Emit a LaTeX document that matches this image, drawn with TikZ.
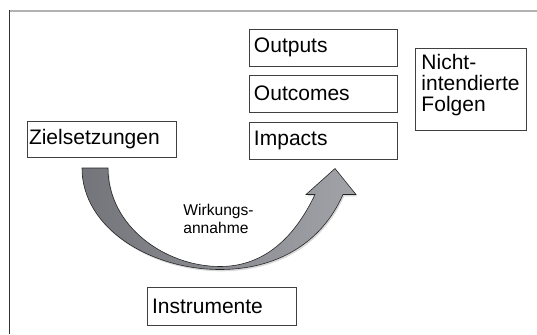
\documentclass[tikz,border=0pt]{standalone}
\usepackage{fontspec}
\setmainfont{Liberation Sans}
\usetikzlibrary{calc, shadows}
\usepackage{xcolor}
\definecolor{arrowdark}{RGB}{116,117,122}
\definecolor{arrowlight}{RGB}{162,163,168}

\begin{document}
\begin{tikzpicture}[x=0.5pt, y=-0.5pt]
    \tikzstyle{box}=[draw=black!75, line width=0.5pt, anchor=north west, align=left,
        inner ysep=0pt, font=\fontsize{10.5}{10.5}\selectfont]
    \tikzstyle{result box}=[box, inner xsep=2.25pt, text width=69.5pt, minimum height=18.25pt]
    \tikzstyle{wirk arrow}=[draw=black!85, line width=0.3pt, left color=arrowdark, right color=arrowlight,
        drop shadow={shadow xshift=0.6pt, shadow yshift=-0.9pt, opacity=0.3}]
    \tikzstyle{annot}=[inner sep=0pt, anchor=north west, align=left, font=\fontsize{7.8}{9}\selectfont]

    \useasboundingbox (0,0) rectangle (537,334);

    % Draw the frame (only top and left side)
    \draw[gray!60, line width=1pt] (9,10.5) -- (537,10.5);
    \draw[black!80, line width=0.75pt] (9.5,10) -- (9.5,334);

    % Draw the goal and the instruments
    \node[box, inner xsep=0.75pt, text width=73pt, minimum height=18pt] (Z) at (27,121) {Zielsetzungen};
    \node[box, inner xsep=2.25pt, text width=70pt, minimum height=19pt] (I) at (147,287) {Instrumente};

    % Draw the result boxes
    \foreach \i / \name / \y in {1/Outputs/29, 2/Outcomes/75, 3/Impacts/122}
        \node[result box] (R-\i) at (249,\y) {\name};

    % Side effects
    \node[box, inner xsep=3pt, inner ysep=3pt, text width=49.5pt, text depth=27.3pt] (N) at (415,48)
        {Nicht-\\intendierte\\Folgen};

    % The bent arrow from the goal to the impacts
    \coordinate (tail) at ($(Z.south west)+(55,10)$);
    \coordinate (tip) at ($(R-3.south west)+(86,9)$);
    \coordinate (low) at ($(I.north)+(-2,-19)$);
    \path[wirk arrow] (tail) -- ++(26,0)
        .. controls +(0,58) and +(-55,0) .. ($(low)+(0,-1.5)$)
        .. controls +(45,0) and +(-20,42) .. ($(tip)+(-20,26)$)
        -- ($(tip)+(-29,26)$) -- (tip) -- ($(tip)+(21,26)$) -- ($(tip)+(8,26)$)
        .. controls +(-22,50) and +(55,0) .. ($(low)+(0,1.5)$)
        .. controls +(-70,0) and +(0,60) .. (tail) -- cycle;

    % Annotate the arrow
    \node[annot] (wa) at (183,204) {Wirkungs-\\annahme};
\end{tikzpicture}
\end{document}
